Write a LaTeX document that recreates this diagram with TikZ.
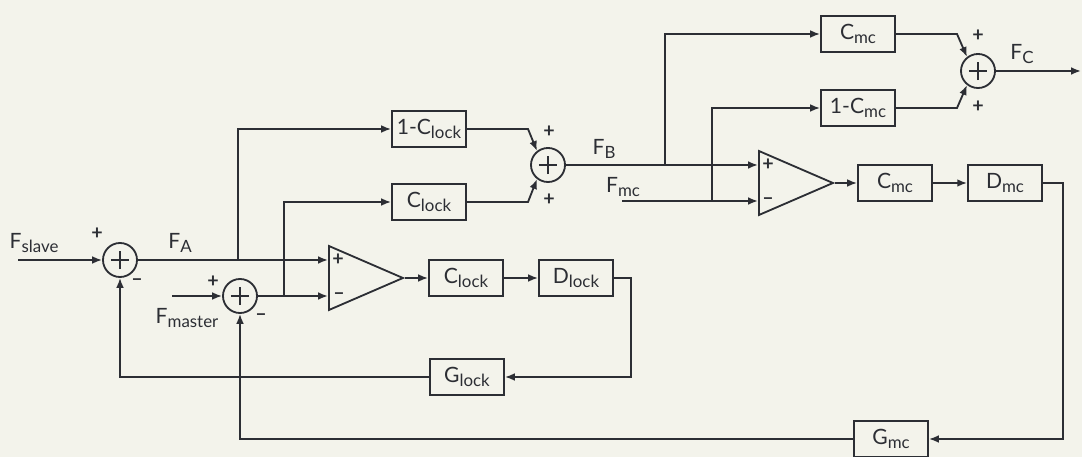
\documentclass[tikz,border=0pt]{standalone}
\usepackage{fontspec}
\setmainfont{Lato}
\usetikzlibrary{arrows.meta,shapes.geometric}
\definecolor{ink}{RGB}{44,46,52}
\definecolor{paper}{RGB}{243,243,235}
\newcommand{\lowsub}[1]{\raisebox{-0.35ex}{\fontsize{12}{12}\selectfont #1}}

\begin{document}
\begin{tikzpicture}[x=0.025cm, y=-0.025cm,
  line/.style={draw=ink, line width=1.3pt},
  sig/.style={line, -{Latex[length=7pt,width=5.5pt]}},
  blk/.style={draw=ink, line width=1.3pt, minimum width=1.85cm, minimum height=0.92cm,
    inner sep=0pt, text=ink, font=\fontsize{15}{17}\selectfont},
  sumnode/.style={circle, draw=ink, line width=1.3pt, minimum size=0.85cm, inner sep=0pt,
    path picture={\draw[ink, line width=1.3pt]
      ([xshift=-0.23cm]path picture bounding box.center) -- ([xshift=0.23cm]path picture bounding box.center)
      ([yshift=-0.23cm]path picture bounding box.center) -- ([yshift=0.23cm]path picture bounding box.center);}},
  amp/.style={isosceles triangle, isosceles triangle stretches, draw=ink, line width=1.3pt,
    minimum width=1.6cm, minimum height=1.85cm, inner sep=0pt, anchor=lower side},
  lbl/.style={text=ink, font=\fontsize{15}{17}\selectfont, inner sep=0pt},
  sgn/.style={text=ink, font=\fontsize{14}{14}\selectfont\bfseries, inner sep=0pt}]
  \fill[paper] (0,0) rectangle (1082,457);
  \useasboundingbox (0,0) rectangle (1082,457);

  % summing points
  \node[sumnode] (s1) at (120,260) {};
  \node[sumnode] (s2) at (240,296) {};
  \node[sumnode] (s3) at (548,165) {};
  \node[sumnode] (s4) at (978,71) {};

  % comparators
  \node[amp] (amp1) at (328,278) {};
  \node[amp] (amp2) at (758,183) {};

  % blocks
  \node[blk] (onelock) at (429,129) {1-C\lowsub{lock}};
  \node[blk] (clockup) at (429,202) {C\lowsub{lock}};
  \node[blk] (clock) at (466,278) {C\lowsub{lock}};
  \node[blk] (dlock) at (576,278) {D\lowsub{lock}};
  \node[blk] (glock) at (467,377) {G\lowsub{lock}};
  \node[blk] (cmctop) at (858,34) {C\lowsub{mc}};
  \node[blk] (onemc) at (858,108) {1-C\lowsub{mc}};
  \node[blk] (cmc) at (895,183) {C\lowsub{mc}};
  \node[blk] (dmc) at (1005,183) {D\lowsub{mc}};
  \node[blk] (gmc) at (891,439) {G\lowsub{mc}};

  % free ends and branch points
  \coordinate (fslave) at (18,260);
  \coordinate (fmaster) at (172,296);
  \coordinate (fmc) at (622,201);
  \coordinate (fc) at (1081,71);
  \coordinate (ja) at (238,260);
  \coordinate (jm) at (284,296);
  \coordinate (jb) at (665,165);
  \coordinate (jmc) at (712,201);

  % lock loop
  \draw[sig] (fslave) -- (s1.west);
  \draw[sig] (s1.east) -- ([yshift=0.45cm]amp1.lower side);
  \draw[sig] (fmaster) -- (s2.west);
  \draw[sig] (s2.east) -- ([yshift=-0.45cm]amp1.lower side);
  \draw[sig] (ja) |- (onelock.west);
  \draw[sig] (jm) |- (clockup.west);
  \draw[sig] (amp1.apex) -- (clock.west);
  \draw[sig] (clock.east) -- (dlock.west);
  \draw[sig] (dlock.east) -| (631,377) -- (glock.east);
  \draw[sig] (glock.west) -| (s1.south);
  \draw[sig] (onelock.east) -- (528,129) -- (s3.128);
  \draw[sig] (clockup.east) -- (528,202) -- (s3.232);

  % mc loop
  \draw[sig] (s3.east) -- ([yshift=0.45cm]amp2.lower side);
  \draw[sig] (fmc) -- ([yshift=-0.45cm]amp2.lower side);
  \draw[sig] (jb) |- (cmctop.west);
  \draw[sig] (jmc) |- (onemc.west);
  \draw[sig] (amp2.apex) -- (cmc.west);
  \draw[sig] (cmc.east) -- (dmc.west);
  \draw[sig] (dmc.east) -| (1063,439) -- (gmc.east);
  \draw[sig] (gmc.west) -| (s2.south);
  \draw[sig] (cmctop.east) -- (957,34) -- (s4.128);
  \draw[sig] (onemc.east) -- (957,108) -- (s4.232);
  \draw[sig] (s4.east) -- (fc);

  % labels
  \node[lbl] at (34,243) {F\lowsub{slave}};
  \node[lbl] at (180,243) {F\lowsub{A}};
  \node[lbl] at (187,318) {F\lowsub{master}};
  \node[lbl] at (604,149) {F\lowsub{B}};
  \node[lbl] at (623,187) {F\lowsub{mc}};
  \node[lbl] at (1022,54) {F\lowsub{C}};

  % signs
  \node[sgn] at (97,234) {+};
  \node[sgn] at (137,282) {–};
  \node[sgn] at (213,282) {+};
  \node[sgn] at (261,317) {–};
  \node[sgn] at (338,260) {+};
  \node[sgn] at (339,296) {–};
  \node[sgn] at (549,132) {+};
  \node[sgn] at (549,200) {+};
  \node[sgn] at (768,165) {+};
  \node[sgn] at (768,201) {–};
  \node[sgn] at (978,36) {+};
  \node[sgn] at (978,107) {+};
\end{tikzpicture}
\end{document}
